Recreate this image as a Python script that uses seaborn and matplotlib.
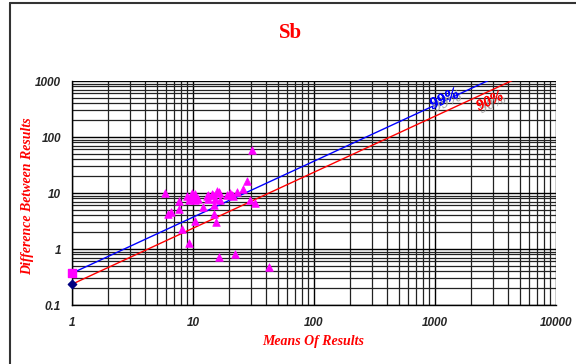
import numpy as np
import pandas as pd
import matplotlib
matplotlib.use("Agg")
import matplotlib.pyplot as plt
import matplotlib.ticker as mticker
import matplotlib.patheffects as pe
import seaborn as sns

# ---- data ----
means = [30.9, 28.0, 26.0, 23.0, 20.2, 19.2, 20.9, 21.5, 15.7, 16.4,
         14.3, 14.6, 13.0, 13.4, 13.4, 15.2, 16.7, 16.4, 11.1, 10.0,
         10.3, 9.6, 10.4, 9.3, 8.9, 9.8, 5.9, 7.6, 6.6, 6.25,
         7.6, 8.1, 9.3, 10.4, 12.2, 15.0, 14.9, 15.5, 29.6, 32.6,
         16.5, 22.4, 42.2]
diffs = [58.6, 16.5, 11.9, 10.4, 9.9, 9.1, 9.2, 8.8, 11.0, 10.3,
         9.5, 9.1, 8.8, 9.2, 7.7, 7.7, 7.5, 9.9, 7.7, 9.2,
         9.6, 8.5, 7.5, 7.5, 8.9, 9.9, 9.9, 7.2, 4.5, 4.2,
         5.2, 2.3, 1.27, 3.2, 5.6, 6.1, 4.3, 3.0, 7.5, 6.7,
         0.73, 0.81, 0.48]
line_x = [1, 10000]
line99_y = [0.37, 3700]
line90_y = [0.235, 2350]
title = "Sb"
xlabel = "Means Of Results"
ylabel = "Difference Between Results"
xticks = [1, 10, 100, 1000, 10000]
yticks = [0.1, 1, 10, 100, 1000]

sns.set_style("white")
plt.rcParams['font.family'] = ['Liberation Sans', 'DejaVu Sans']

fig = plt.figure(figsize=(5.76, 3.64), dpi=100)
ax = fig.add_axes([72/576, 1-305/364, (556-72)/576, (305-81)/364])
ax.set_xscale('log')
ax.set_yscale('log')
ax.set_xlim(1, 10000)
ax.set_ylim(0.1, 1000)

# grid
ax.xaxis.set_minor_locator(mticker.LogLocator(base=10, subs=np.arange(2, 10)))
ax.yaxis.set_minor_locator(mticker.LogLocator(base=10, subs=np.arange(2, 10)))
ax.grid(True, which='major', color='black', lw=1.0)
ax.grid(True, which='minor', color='#222222', lw=0.9)
ax.set_axisbelow(True)

df_lines = pd.DataFrame({'x': line_x * 2,
                         'y': line99_y + line90_y,
                         'line': ['99%'] * 2 + ['90%'] * 2})
sns.lineplot(data=df_lines, x='x', y='y', hue='line',
             palette={'99%': '#0000ff', '90%': '#ff0000'},
             lw=1.0, legend=False, ax=ax, zorder=3)

df = pd.DataFrame({'mean': means, 'diff': diffs})
sns.scatterplot(data=df, x='mean', y='diff', marker='^', color='#ff00ff',
                s=30, edgecolor='#ff00ff', linewidth=0.5, ax=ax, zorder=4)
ax.scatter([line_x[0]], [line99_y[0]], marker='s', color='#ff00ff', s=30, zorder=5, clip_on=False)
ax.scatter([line_x[0]], [line90_y[0]], marker='D', color='#000080', s=18, zorder=5, clip_on=False)
ax.set_xlabel('')
ax.set_ylabel('')

for spine in ['top', 'right']:
    ax.spines[spine].set_visible(False)
for spine in ['left', 'bottom']:
    ax.spines[spine].set_color('black')
    ax.spines[spine].set_linewidth(1.0)

ax.set_xticks(xticks)
ax.set_yticks(yticks)
ax.xaxis.set_major_formatter(mticker.FuncFormatter(lambda v, p: f"{v:g}"))
ax.yaxis.set_major_formatter(mticker.FuncFormatter(lambda v, p: f"{v:g}"))
ax.tick_params(axis='both', which='major', direction='out', length=4, width=1,
               color='black', labelsize=8.5, pad=4)
ax.tick_params(axis='x', which='major', pad=5)
ax.tick_params(axis='both', which='minor', length=0)
for lab in ax.get_xticklabels() + ax.get_yticklabels():
    lab.set_fontweight('bold')
    lab.set_fontstyle('italic')

fig.text(313/576, 1-342/364, xlabel, family='Liberation Serif', fontweight='bold',
         fontstyle='italic', color='#ff0000', fontsize=10, ha='center', va='center')
fig.text(28/576, 1-196/364, ylabel, family='Liberation Serif', fontweight='bold',
         fontstyle='italic', color='#ff0000', fontsize=10, ha='center', va='center',
         rotation=90)

fig.text(290/576, 1-33/364, title, family='Liberation Serif', fontweight='bold',
         color='#ff0000', fontsize=15, ha='center', va='center')

shadow = [pe.withSimplePatchShadow(offset=(2, -2), shadow_rgbFace='#999999', alpha=0.8), pe.Normal()]
ax.text(1200, 470, "99%", family='Liberation Serif', fontweight='bold', fontstyle='italic',
        color='#0000ff', fontsize=12, rotation=25, ha='center', va='center', path_effects=shadow)
ax.text(2850, 430, "90%", family='Liberation Serif', fontweight='bold', fontstyle='italic',
        color='#ff0000', fontsize=11, rotation=25, ha='center', va='center', path_effects=shadow)

# chart-area border (left and top edges visible)
fig.add_artist(plt.Line2D([10/576, 10/576], [0, 1-3/364], color='#333333', lw=1.5,
                          transform=fig.transFigure))
fig.add_artist(plt.Line2D([10/576, 1], [1-3/364, 1-3/364], color='#333333', lw=1.5,
                          transform=fig.transFigure))

fig.savefig("out.png", dpi=100)
